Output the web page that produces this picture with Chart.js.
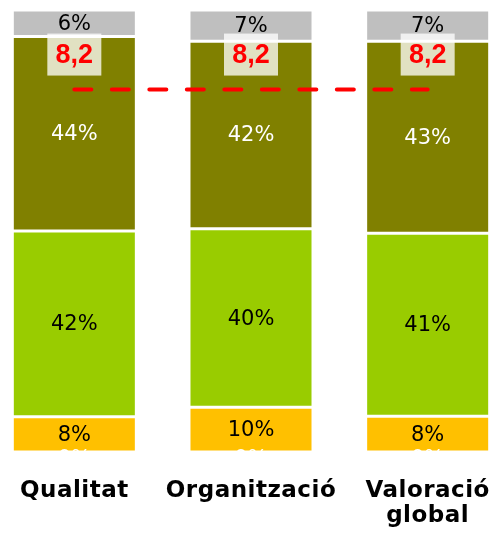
<!DOCTYPE html>
<html>
<head>
<meta charset="utf-8">
<script src="https://cdn.jsdelivr.net/npm/chart.js@4"></script>
<style>
  html, body { margin: 0; padding: 0; background: #fff; overflow: hidden; }
  #wrap { width: 493px; height: 539px; overflow: hidden; position: relative; }
  #chart { position: absolute; left: -14px; top: 0; }
</style>
</head>
<body>
<div id="wrap"><canvas id="chart" width="530" height="539"></canvas></div>
<script>
// categories and values (percent per bar, bottom to top)
const categories = ['Qualitat', 'Organització', ['Valoració', 'global']];
const zeroVals   = [0, 0, 0];
const orangeVals = [8, 10, 8];
const greenVals  = [42, 40, 41];
const oliveVals  = [44, 42, 43];
const grayVals   = [6, 7, 7];
const scoreVals  = [8.2, 8.2, 8.2]; // average score, 0-10

const series = [
  { vals: zeroVals,   color: '#ffffff', text: '#ffffff', zero: true },
  { vals: orangeVals, color: '#ffc000', text: '#000000' },
  { vals: greenVals,  color: '#99cc00', text: '#000000' },
  { vals: oliveVals,  color: '#808000', text: '#ffffff' },
  { vals: grayVals,   color: '#bfbfbf', text: '#000000' }
];

// 100% stacked: each bar normalised to its own total
const totals = categories.map((_, i) => series.reduce((s, d) => s + d.vals[i], 0));

const barSets = series.map(s => ({
  type: 'bar',
  data: s.vals.map((v, i) => v / totals[i] * 100),
  raw: s.vals,
  textColor: s.text,
  zero: !!s.zero,
  backgroundColor: s.color,
  borderColor: '#ffffff',
  borderWidth: 1.5,
  borderSkipped: false,
  stack: 's',
  order: 1,
  barPercentage: 0.702,
  categoryPercentage: 1
}));

const lineSet = {
  type: 'line',
  data: scoreVals,
  yAxisID: 'y2',
  borderColor: '#ff0000',
  borderWidth: 4,
  borderDash: [17, 20.5],
  borderCapStyle: 'round',
  pointRadius: 0,
  fill: false,
  order: 0
};

const labelPlugin = {
  id: 'labels',
  afterDatasetsDraw(chart) {
    const ctx = chart.ctx;
    ctx.save();
    ctx.textAlign = 'center';
    ctx.textBaseline = 'middle';
    ctx.font = '21px "DejaVu Sans"';
    chart.data.datasets.forEach((ds, di) => {
      if (ds.type !== 'bar') return;
      chart.getDatasetMeta(di).data.forEach((el, i) => {
        const y = ds.zero ? el.base + 7 : (el.y + el.base) / 2;
        ctx.fillStyle = ds.textColor;
        ctx.fillText(ds.raw[i] + '%', el.x, y + 1);
      });
    });
    // score boxes above the dashed line
    const li = chart.data.datasets.indexOf(lineSet);
    chart.getDatasetMeta(li).data.forEach((pt, i) => {
      const cy = pt.y - 35;
      ctx.fillStyle = 'rgba(255,255,255,0.76)';
      ctx.fillRect(pt.x - 27, cy - 21, 54, 42);
      ctx.fillStyle = '#ff0000';
      ctx.font = 'bold 27px "Liberation Sans"';
      ctx.fillText(scoreVals[i].toFixed(1).replace('.', ','), pt.x, cy + 1);
    });
    ctx.restore();
  },
  afterDraw(chart) {
    // category names under the bars, placed by the x scale
    const ctx = chart.ctx;
    const x = chart.scales.x;
    ctx.save();
    ctx.textAlign = 'center';
    ctx.textBaseline = 'alphabetic';
    ctx.fillStyle = '#000000';
    ctx.font = 'bold 23px "DejaVu Sans"';
    ctx.letterSpacing = '0.5px';
    categories.forEach((c, i) => {
      const lines = Array.isArray(c) ? c : [c];
      lines.forEach((t, k) => ctx.fillText(t, x.getPixelForValue(i), 497 + k * 25));
    });
    ctx.restore();
  }
};

new Chart(document.getElementById('chart'), {
  data: { labels: categories, datasets: [lineSet, ...barSets] },
  plugins: [labelPlugin],
  options: {
    responsive: false,
    animation: false,
    devicePixelRatio: 1,
    layout: { padding: { left: 0, right: 0, top: 10, bottom: 87 } },
    plugins: { legend: { display: false }, tooltip: { enabled: false } },
    scales: {
      x: { stacked: true, display: false },
      y: { stacked: true, min: 0, max: 100, display: false },
      y2: { min: 0, max: 10, display: false }
    }
  }
});
</script>
</body>
</html>
